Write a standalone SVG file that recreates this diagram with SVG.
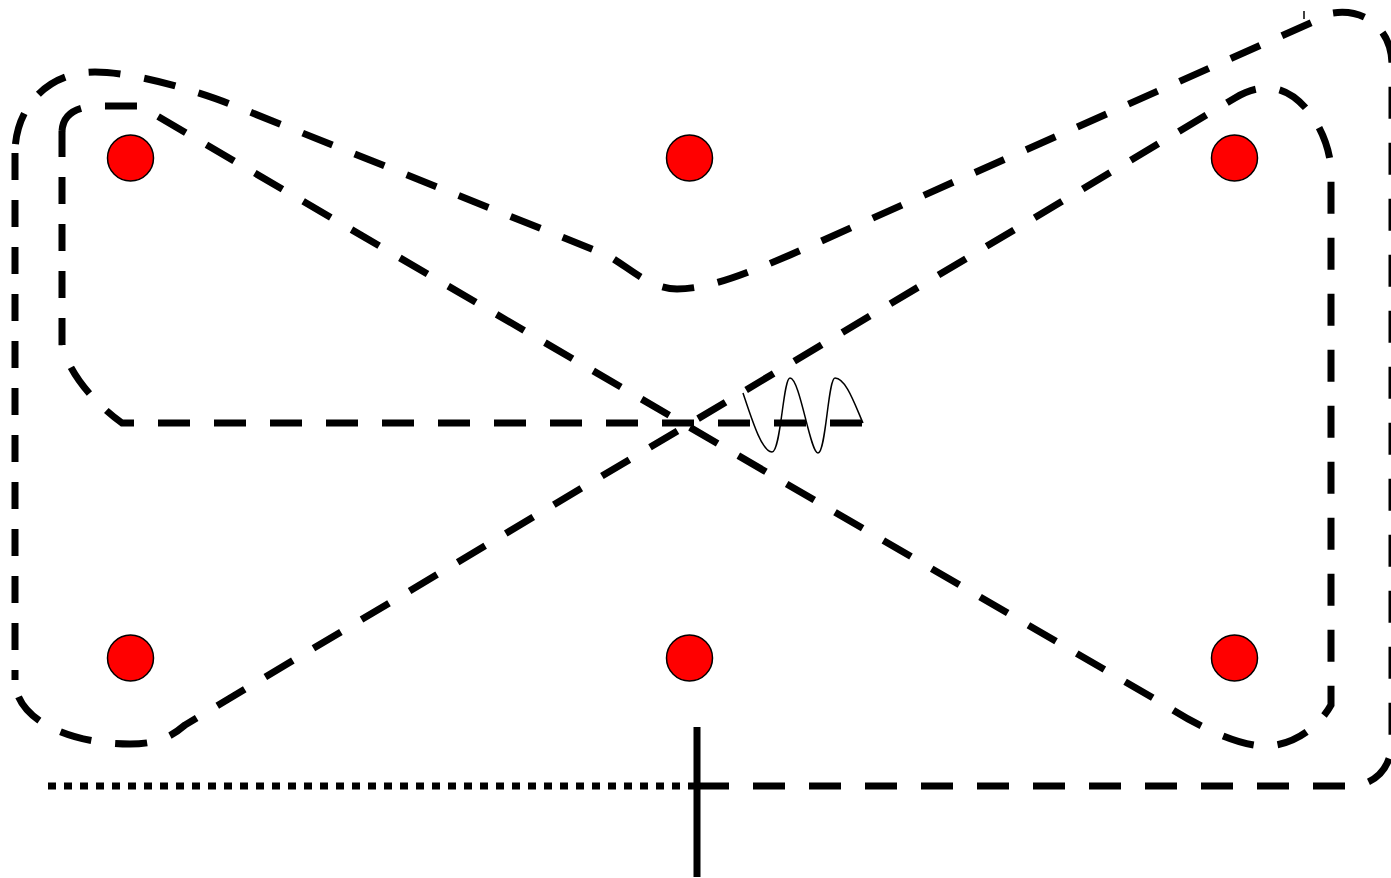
<svg xmlns="http://www.w3.org/2000/svg" width="1391" height="878" viewBox="0 0 1391 878">
<style>
.d{fill:none;stroke:#000;stroke-width:7;stroke-dasharray:32 24}
.e{fill:none;stroke:#000;stroke-width:7;stroke-dasharray:27 20}
.dot{fill:none;stroke:#000;stroke-width:7;stroke-dasharray:8 8}
.s{fill:none;stroke:#000;stroke-width:7}
.thin{fill:none;stroke:#000;stroke-width:1.5}
.n{fill:#ff0000;stroke:#000;stroke-width:1.5}
</style>
<rect width="1391" height="878" fill="#fff"/>
<g id="connectors">
<path class="d" d="M862,423 L122,423 C90,400 68,370 62,345"/>
<path class="e" d="M62,345 L62,131"/>
<path class="d" d="M62,131 C63,114 76,106 100,106 L140,106 L1165,705 C1200,728 1240,746 1265,746 C1295,746 1320,725 1331,705 L1331,168 C1328,130 1300,88 1268,88 C1255,88 1245,92 1235,98 L185,725 C170,738 155,744 130,744 C70,744 15,720 15,680"/>
<path class="e" d="M15,153 L15,680"/>
<path class="d" d="M697,786 L1348,786 C1375,786 1392,768 1392,740 L1392,65 C1392,32 1368,8 1333,13 L790,255 C750,272 710,289 677,289 C650,289 630,268 607,255 L230,104 C200,92 135,72 95,72 C45,72 15,110 15,153"/>
<path class="dot" d="M48,786 L697,786"/>
<path class="s" d="M697,727 L697,877"/>
<path class="thin" d="M743,393 C752,420 762,452 772,452 C781,452 783,378 790,378 C800,378 810,453 818,453 C826,453 828,378 835,378 C846,378 855,405 863,423"/>
<path class="thin" stroke-width="1" d="M1304,11 L1304,19"/>
</g>
<g id="n1"><circle class="n" cx="130.5" cy="158" r="23"/></g>
<g id="n2"><circle class="n" cx="689.5" cy="158" r="23"/></g>
<g id="n3"><circle class="n" cx="1234.5" cy="158" r="23"/></g>
<g id="n4"><circle class="n" cx="130.5" cy="658" r="23"/></g>
<g id="n5"><circle class="n" cx="689.5" cy="658" r="23"/></g>
<g id="n6"><circle class="n" cx="1234.5" cy="658" r="23"/></g>
</svg>
